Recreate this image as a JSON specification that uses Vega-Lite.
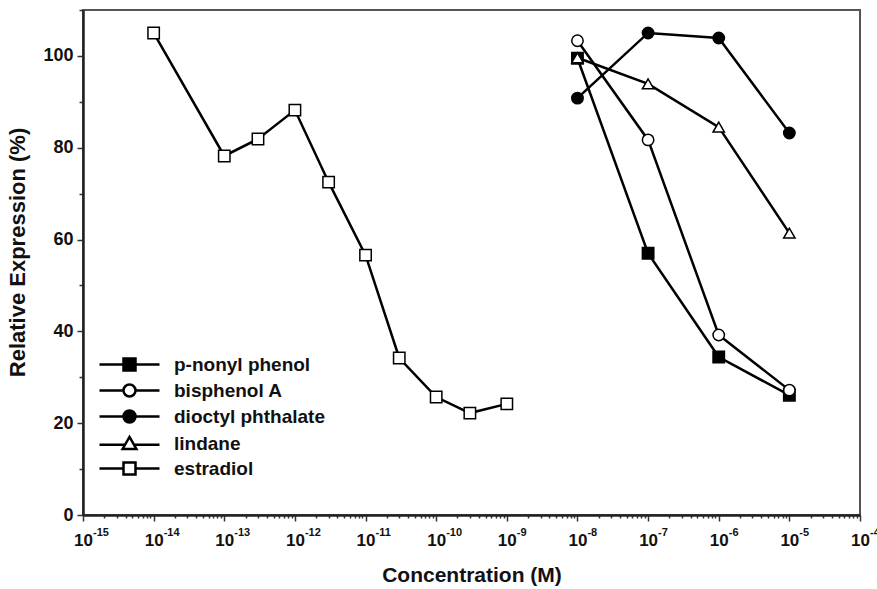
{
  "$schema": "https://vega.github.io/schema/vega-lite/v6.json",
  "width": 777,
  "height": 505,
  "autosize": "none",
  "padding": {"left": 83, "top": 10, "right": 17, "bottom": 74},
  "background": "white",
  "config": {
    "font": "Liberation Sans",
    "view": {"stroke": "#555555", "strokeWidth": 2},
    "axis": {
      "domainColor": "#222222",
      "domainWidth": 2.5,
      "tickColor": "#333333",
      "tickWidth": 1.5,
      "grid": false,
      "labelFont": "Liberation Sans",
      "labelFontWeight": "bold",
      "labelColor": "#111111",
      "titleFont": "Liberation Sans",
      "titleFontWeight": "bold",
      "titleColor": "#111111"
    },
    "legend": {
      "title": null,
      "orient": "bottom-left",
      "offset": 35,
      "padding": 0,
      "rowPadding": 3,
      "symbolSize": 144,
      "symbolStrokeWidth": 2.5,
      "symbolOpacity": 1,
      "symbolOffset": 2,
      "labelOffset": 35,
      "labelFont": "Liberation Sans",
      "labelFontWeight": "bold",
      "labelFontSize": 19,
      "labelColor": "#111111",
      "labelLimit": 300
    }
  },
  "datasets": {
    "responses": [
      {"series": "estradiol", "conc": 1e-14, "value": 105},
      {"series": "estradiol", "conc": 1e-13, "value": 78.2},
      {"series": "estradiol", "conc": 3e-13, "value": 81.9},
      {"series": "estradiol", "conc": 1e-12, "value": 88.2},
      {"series": "estradiol", "conc": 3e-12, "value": 72.5},
      {"series": "estradiol", "conc": 1e-11, "value": 56.6},
      {"series": "estradiol", "conc": 3e-11, "value": 34.2},
      {"series": "estradiol", "conc": 1e-10, "value": 25.7},
      {"series": "estradiol", "conc": 3e-10, "value": 22.2},
      {"series": "estradiol", "conc": 1e-9, "value": 24.2},
      {"series": "p-nonyl phenol", "conc": 1e-8, "value": 99.5},
      {"series": "p-nonyl phenol", "conc": 1e-7, "value": 57},
      {"series": "p-nonyl phenol", "conc": 1e-6, "value": 34.4},
      {"series": "p-nonyl phenol", "conc": 1e-5, "value": 26.1},
      {"series": "dioctyl phthalate", "conc": 1e-8, "value": 90.8},
      {"series": "dioctyl phthalate", "conc": 1e-7, "value": 105},
      {"series": "dioctyl phthalate", "conc": 1e-6, "value": 103.9},
      {"series": "dioctyl phthalate", "conc": 1e-5, "value": 83.2},
      {"series": "lindane", "conc": 1e-8, "value": 99.6},
      {"series": "lindane", "conc": 1e-7, "value": 93.9},
      {"series": "lindane", "conc": 1e-6, "value": 84.5},
      {"series": "lindane", "conc": 1e-5, "value": 61.4},
      {"series": "bisphenol A", "conc": 1e-8, "value": 103.3},
      {"series": "bisphenol A", "conc": 1e-7, "value": 81.7},
      {"series": "bisphenol A", "conc": 1e-6, "value": 39.2},
      {"series": "bisphenol A", "conc": 1e-5, "value": 27.2}
    ],
    "decades": [
      {"c": 1e-15, "exp": "-15"},
      {"c": 1e-14, "exp": "-14"},
      {"c": 1e-13, "exp": "-13"},
      {"c": 1e-12, "exp": "-12"},
      {"c": 1e-11, "exp": "-11"},
      {"c": 1e-10, "exp": "-10"},
      {"c": 1e-9, "exp": "-9"},
      {"c": 1e-8, "exp": "-8"},
      {"c": 1e-7, "exp": "-7"},
      {"c": 1e-6, "exp": "-6"},
      {"c": 1e-5, "exp": "-5"},
      {"c": 1e-4, "exp": "-4"}
    ]
  },
  "resolve": {
    "scale": {"shape": "independent", "fill": "independent"},
    "legend": {"shape": "independent", "fill": "independent"}
  },
  "layer": [
    {
      "data": {"name": "responses"},
      "mark": {"type": "line", "color": "black", "strokeWidth": 2.5},
      "encoding": {
        "x": {
          "field": "conc",
          "type": "quantitative",
          "scale": {"type": "log", "domain": [1e-15, 1e-4], "nice": false},
          "axis": {
            "title": "Concentration (M)",
            "titleFontSize": 21,
            "titlePadding": 16,
            "labelFontSize": 17,
            "labelPadding": 11,
            "labelDx": -4,
            "labelFlush": false,
            "labelOverlap": false,
            "labelBound": false,
            "labelExpr": "abs(log(datum.value)/LN10 - round(log(datum.value)/LN10)) < 0.001 ? '10' : ''",
            "tickSize": {"condition": {"test": "abs(log(datum.value)/LN10 - round(log(datum.value)/LN10)) < 0.001", "value": 6}, "value": 3},
            "values": [
              1e-15, 2e-15, 3e-15, 4e-15, 5e-15, 6e-15, 7e-15, 8e-15, 9e-15,
              1e-14, 2e-14, 3e-14, 4e-14, 5e-14, 6e-14, 7e-14, 8e-14, 9e-14,
              1e-13, 2e-13, 3e-13, 4e-13, 5e-13, 6e-13, 7e-13, 8e-13, 9e-13,
              1e-12, 2e-12, 3e-12, 4e-12, 5e-12, 6e-12, 7e-12, 8e-12, 9e-12,
              1e-11, 2e-11, 3e-11, 4e-11, 5e-11, 6e-11, 7e-11, 8e-11, 9e-11,
              1e-10, 2e-10, 3e-10, 4e-10, 5e-10, 6e-10, 7e-10, 8e-10, 9e-10,
              1e-9, 2e-9, 3e-9, 4e-9, 5e-9, 6e-9, 7e-9, 8e-9, 9e-9,
              1e-8, 2e-8, 3e-8, 4e-8, 5e-8, 6e-8, 7e-8, 8e-8, 9e-8,
              1e-7, 2e-7, 3e-7, 4e-7, 5e-7, 6e-7, 7e-7, 8e-7, 9e-7,
              1e-6, 2e-6, 3e-6, 4e-6, 5e-6, 6e-6, 7e-6, 8e-6, 9e-6,
              1e-5, 2e-5, 3e-5, 4e-5, 5e-5, 6e-5, 7e-5, 8e-5, 9e-5,
              1e-4
            ]
          }
        },
        "y": {
          "field": "value",
          "type": "quantitative",
          "scale": {"domain": [0, 110], "nice": false},
          "axis": {
            "title": "Relative Expression (%)",
            "titleFontSize": 22,
            "titlePadding": 13,
            "titleY": 242,
            "labelFontSize": 18,
            "labelPadding": 4,
            "labelFlush": false,
            "labelOverlap": false,
            "values": [0, 5, 10, 15, 20, 25, 30, 35, 40, 45, 50, 55, 60, 65, 70, 75, 80, 85, 90, 95, 100, 105, 110],
            "labelExpr": "datum.value % 20 === 0 ? datum.label : ''",
            "tickSize": {"condition": {"test": "datum.value % 20 === 0", "value": 6}, "value": 4}
          }
        },
        "detail": {"field": "series", "type": "nominal"}
      }
    },
    {
      "data": {"name": "responses"},
      "mark": {"type": "point", "filled": true, "opacity": 1, "stroke": "black", "strokeWidth": 1.5, "size": 130},
      "encoding": {
        "x": {"field": "conc", "type": "quantitative"},
        "y": {"field": "value", "type": "quantitative"},
        "shape": {
          "field": "series",
          "type": "nominal",
          "legend": null,
          "scale": {
            "domain": ["p-nonyl phenol", "bisphenol A", "dioctyl phthalate", "lindane", "estradiol"],
            "range": ["square", "circle", "circle", "triangle-up", "square"]
          }
        },
        "fill": {
          "field": "series",
          "type": "nominal",
          "legend": null,
          "scale": {
            "domain": ["p-nonyl phenol", "bisphenol A", "dioctyl phthalate", "lindane", "estradiol"],
            "range": ["black", "white", "black", "white", "white"]
          }
        }
      }
    },
    {
      "data": {"name": "responses"},
      "mark": {"type": "point", "filled": true, "opacity": 0, "stroke": "black", "strokeWidth": 2.5},
      "encoding": {
        "x": {"field": "conc", "type": "quantitative"},
        "y": {"field": "value", "type": "quantitative"},
        "shape": {
          "field": "series",
          "type": "nominal",
          "scale": {
            "domain": ["p-nonyl phenol", "bisphenol A", "dioctyl phthalate", "lindane", "estradiol"],
            "range": [
              "M-5,0H-1M1,0H5M-1,-1H1V1H-1Z",
              "M-5,0H-1M1,0H5M-1,0A1,1 0 1,0 1,0A1,1 0 1,0 -1,0Z",
              "M-5,0H-1M1,0H5M-1,0A1,1 0 1,0 1,0A1,1 0 1,0 -1,0Z",
              "M-5,0.2H-0.75M0.75,0.2H5M0,-1.1L1.15,0.9H-1.15Z",
              "M-5,0H-1M1,0H5M-1,-1H1V1H-1Z"
            ]
          }
        },
        "fill": {
          "field": "series",
          "type": "nominal",
          "scale": {
            "domain": ["p-nonyl phenol", "bisphenol A", "dioctyl phthalate", "lindane", "estradiol"],
            "range": ["black", "white", "black", "white", "white"]
          }
        }
      }
    },
    {
      "data": {"name": "decades"},
      "mark": {"type": "text", "align": "left", "baseline": "alphabetic", "dx": 10, "dy": 21, "fontSize": 11, "fontWeight": "bold", "font": "Liberation Sans", "color": "#111111"},
      "encoding": {
        "x": {"field": "c", "type": "quantitative"},
        "y": {"datum": 0},
        "text": {"field": "exp", "type": "nominal"}
      }
    }
  ]
}
